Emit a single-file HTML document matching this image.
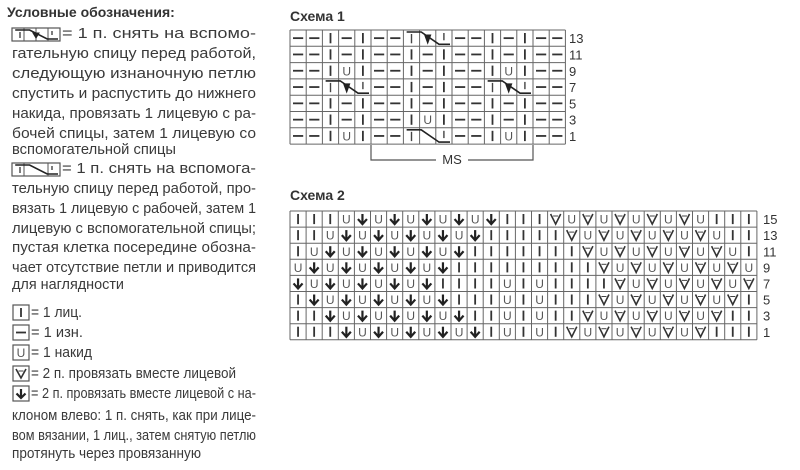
<!DOCTYPE html>
<html><head><meta charset="utf-8"><style>
html,body{margin:0;padding:0;background:#fff;}
svg{display:block;font-family:"Liberation Sans","DejaVu Sans",sans-serif;}
.t text{font-size:15px;fill:#3a3a3a;}
</style></head><body>
<svg id="s" width="800" height="470" viewBox="0 0 800 470" xmlns="http://www.w3.org/2000/svg">
<text x="7" y="17" style="font-size:14px;font-weight:bold;fill:#333">Условные обозначения:</text>
<g class="t">
<text x="62" y="38" textLength="194" lengthAdjust="spacingAndGlyphs">= 1 п. снять на вспомо-</text>
<text x="12" y="58" textLength="244" lengthAdjust="spacingAndGlyphs">гательную спицу перед работой,</text>
<text x="12" y="78" textLength="244" lengthAdjust="spacingAndGlyphs">следующую изнаночную петлю</text>
<text x="12" y="98" textLength="244" lengthAdjust="spacingAndGlyphs">спустить и распустить до нижнего</text>
<text x="12" y="118" textLength="244" lengthAdjust="spacingAndGlyphs">накида, провязать 1 лицевую с ра-</text>
<text x="12" y="138" textLength="244" lengthAdjust="spacingAndGlyphs">бочей спицы, затем 1 лицевую со</text>
<text x="12" y="154" textLength="164" lengthAdjust="spacingAndGlyphs">вспомогательной спицы</text>
<text x="62" y="173" textLength="194" lengthAdjust="spacingAndGlyphs">= 1 п. снять на вспомога-</text>
<text x="12" y="193" textLength="244" lengthAdjust="spacingAndGlyphs">тельную спицу перед работой, про-</text>
<text x="12" y="213" textLength="244" lengthAdjust="spacingAndGlyphs">вязать 1 лицевую с рабочей, затем 1</text>
<text x="12" y="233" textLength="244" lengthAdjust="spacingAndGlyphs">лицевую с вспомогательной спицы;</text>
<text x="12" y="252" textLength="244" lengthAdjust="spacingAndGlyphs">пустая клетка посередине обозна-</text>
<text x="12" y="272" textLength="244" lengthAdjust="spacingAndGlyphs">чает отсутствие петли и приводится</text>
<text x="12" y="289" textLength="112" lengthAdjust="spacingAndGlyphs">для наглядности</text>
<text x="31" y="317" textLength="51" lengthAdjust="spacingAndGlyphs">= 1 лиц.</text>
<text x="31" y="337" textLength="52" lengthAdjust="spacingAndGlyphs">= 1 изн.</text>
<text x="31" y="357" textLength="61" lengthAdjust="spacingAndGlyphs">= 1 накид</text>
<text x="31" y="378" textLength="205" lengthAdjust="spacingAndGlyphs">= 2 п. провязать вместе лицевой</text>
<text x="31" y="398" textLength="225" lengthAdjust="spacingAndGlyphs">= 2 п. провязать вместе лицевой с на-</text>
<text x="12" y="420" textLength="244" lengthAdjust="spacingAndGlyphs">клоном влево: 1 п. снять, как при лице-</text>
<text x="12" y="440" textLength="244" lengthAdjust="spacingAndGlyphs">вом вязании, 1 лиц., затем снятую петлю</text>
<text x="12" y="458" textLength="189" lengthAdjust="spacingAndGlyphs">протянуть через провязанную</text>
</g>
<text x="290" y="21" style="font-size:14px;font-weight:bold;fill:#333">Схема 1</text>
<text x="290" y="200" style="font-size:14px;font-weight:bold;fill:#333">Схема 2</text>
<g id="g" stroke="#444" fill="none"></g>
<text x="452" y="164" text-anchor="middle" style="font-size:13px;fill:#333">MS</text>
</svg>
<script>
var g=document.getElementById('g'),NS='http://www.w3.org/2000/svg';
function el(n,a){var e=document.createElementNS(NS,n);for(var k in a)e.setAttribute(k,a[k]);g.appendChild(e);return e;}
function sym(c,x,y,w,h){var cx=x+w/2,cy=y+h/2;
 if(c=='I')el('line',{x1:cx,y1:y+3,x2:cx,y2:y+h-3,'stroke-width':1.8,stroke:'#333'});
 else if(c=='-')el('line',{x1:x+3,y1:cy,x2:x+w-3,y2:cy,'stroke-width':1.8,stroke:'#333'});
 else if(c=='U'){var t=el('text',{x:cx,y:cy+4.5,'text-anchor':'middle',fill:'#555',stroke:'none','font-size':12});t.textContent='U';}
 else if(c=='D'){el('line',{x1:cx,y1:y+3,x2:cx,y2:y+h-4,'stroke-width':2.2,stroke:'#222'});el('path',{d:'M'+(cx-4.5)+' '+(cy)+' L'+cx+' '+(y+h-3)+' L'+(cx+4.5)+' '+cy,'stroke-width':2.2,stroke:'#222'});}
 else if(c=='V'){el('path',{d:'M'+(x+3)+' '+(y+3)+' L'+cx+' '+(y+h-3)+' L'+(x+w-3)+' '+(y+3),'stroke-width':1.6,stroke:'#333'});el('path',{d:'M'+(x+5.5)+' '+(y+5)+' L'+(x+w-5.5)+' '+(y+5),'stroke-width':1});}
 else if(c=='C'||c=='A'){el('path',{d:'M'+(x+w*0.2)+' '+(y+2)+' L'+(x+w*1.1)+' '+(y+2)+' L'+(x+w*2.2)+' '+(y+h-2)+' L'+(x+w*3-2)+' '+(y+h-2),'stroke-width':1.6,stroke:'#222'});
  el('line',{x1:x+w*0.5,y1:y+4,x2:x+w*0.5,y2:y+h-3,'stroke-width':1.4});el('line',{x1:x+w*2.5,y1:y+3,x2:x+w*2.5,y2:y+h-6,'stroke-width':1.4});
  if(c=='A')el('path',{d:'M'+(x+w*1.5-3)+' '+(y+5)+' L'+(x+w*1.5)+' '+(y+h-3)+' L'+(x+w*1.5+3)+' '+(y+5)+'Z',fill:'#222',stroke:'#222','stroke-width':1});}
}
function grid(x0,y0,w,h,rows,nums,nx){
 var nc=rows[0].length,nr=rows.length;
 for(var r=0;r<=nr;r++)el('line',{x1:x0,y1:y0+r*h,x2:x0+nc*w,y2:y0+r*h,'stroke-width':1,stroke:'#666'});
 for(var c=0;c<=nc;c++)el('line',{x1:x0+c*w,y1:y0,x2:x0+c*w,y2:y0+nr*h,'stroke-width':1,stroke:'#666'});
 rows.forEach(function(row,r){for(var c=0;c<nc;c++){var ch=row[c];if(ch!='.')sym(ch,x0+c*w,y0+r*h,w,h);}
  if(nums[r]){var t=el('text',{x:nx,y:y0+r*h+h/2+5,fill:'#333',stroke:'none','font-size':13});t.textContent=nums[r];}});
}
grid(290,30,16.2,16.3,[
'--I-I--A..--I-I--',
'--I-I--I-I--I-I--',
'--IUI--I-I--IUI--',
'--A..--I-I--A..--',
'--I-I--I-I--I-I--',
'--I-I--IUI--I-I--',
'--IUI--C..--IUI--'],['13','11','9','7','5','3','1'],569);
el('path',{d:'M371 145 V160 H436 M468 160 H533 V145','stroke-width':1.2,stroke:'#555'});
grid(290,211,16.1,16.1,[
'IIIUDUDUDUDUDIIIVUVUVUVUVUIII',
'IIUDUDUDUDUDIIIIIVUVUVUVUVUII',
'IUDUDUDUDUDIIIIIIIVUVUVUVUVUI',
'UDUDUDUDUDIIIIIIIIIVUVUVUVUVU',
'DUDUDUDUDIIIIUIUIIIIVUVUVUVUV',
'IDUDUDUDUDIIIUIUIIIVUVUVUVUVI',
'IIDUDUDUDUDIIUIUIIVUVUVUVUVII',
'IIIDUDUDUDUDIUIUIVUVUVUVUVIII'],['15','13','11','9','7','5','3','1'],763);
function box(x,y,w,h){el('rect',{x:x,y:y,width:w,height:h,'stroke-width':1.2,stroke:'#555'});}
box(12,28,48,13);el('line',{x1:24,y1:28,x2:24,y2:41,stroke:'#555'});el('line',{x1:36,y1:28,x2:36,y2:41,stroke:'#555'});el('line',{x1:48,y1:28,x2:48,y2:41,stroke:'#555'});
sym('A',12,28,16,13);
box(12,163,48,13);el('line',{x1:24,y1:163,x2:24,y2:176,stroke:'#555'});el('line',{x1:48,y1:163,x2:48,y2:176,stroke:'#555'});
sym('C',12,163,16,13);
[[305,'I'],[325,'-'],[345,'U'],[366,'V'],[386,'D']].forEach(function(a){box(13,a[0],16,15);sym(a[1],13,a[0],16,15);});
</script>
</body></html>
